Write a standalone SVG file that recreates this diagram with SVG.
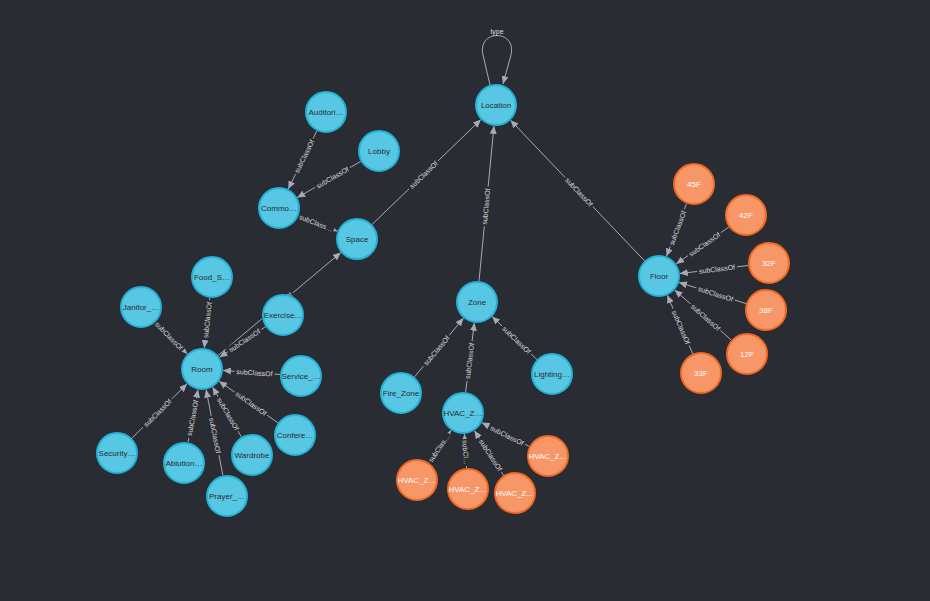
<svg xmlns="http://www.w3.org/2000/svg" width="930" height="601" viewBox="0 0 930 601">
<style>
.bg{fill:#292c33}
.b{fill:#57c7e3;stroke:#23b3d7;stroke-width:2}
.o{fill:#f79767;stroke:#f36924;stroke-width:2}
.t{font-family:"Liberation Sans",Arial,Helvetica,sans-serif;font-size:8px;text-anchor:middle}
.tb{fill:#2a2c34}
.to{fill:#ffffff}
.e{stroke:#a5abb6;stroke-width:1;fill:none;marker-end:url(#arr)}
.l{font-family:"Liberation Sans",Arial,Helvetica,sans-serif;font-size:7px;fill:#dcdcdc;text-anchor:middle}
.lr{fill:#292c33}
</style>
<defs>
<marker id="arr" viewBox="0 0 8 7" refX="8" refY="3.5" markerWidth="8" markerHeight="7" markerUnits="userSpaceOnUse" orient="auto"><path d="M0,0 L8,3.5 L0,7 z" fill="#a5abb6"/></marker>
</defs>
<rect class="bg" x="0" y="0" width="930" height="601"/>
<g id="connectors">
<g id="e-location-type"><path class="e" d="M490,85 L483,55 C477,29 517,29 511,55 L503,84"/><rect class="lr" x="490" y="27" width="14" height="8"/><text class="l" x="497" y="33.5">type</text></g>
<g id="e-space-location"><line class="e" x1="372.1" y1="224.4" x2="480.9" y2="119.6"/><g transform="translate(423.6,174.8) rotate(-43.95)"><rect class="lr" x="-20" y="-4" width="40" height="8"/><text class="l" y="2.5">subClassOf</text></g></g>
<g id="e-zone-location"><line class="e" x1="479" y1="281.1" x2="494" y2="125.9"/><g transform="translate(486.1,206.5) rotate(-84.49)"><rect class="lr" x="-20" y="-4" width="40" height="8"/><text class="l" y="2.5">subClassOf</text></g></g>
<g id="e-floor-location"><line class="e" x1="644.5" y1="260.8" x2="510.5" y2="120.2"/><g transform="translate(579,192) rotate(46.4)"><rect class="lr" x="-20" y="-4" width="40" height="8"/><text class="l" y="2.5">subClassOf</text></g></g>
<g id="e-auditorium-common"><line class="e" x1="316.8" y1="130.9" x2="288.2" y2="189.1"/><g transform="translate(304.3,156.4) rotate(-63.9)"><rect class="lr" x="-20" y="-4" width="40" height="8"/><text class="l" y="2.5">subClassOf</text></g></g>
<g id="e-lobby-common"><line class="e" x1="360.8" y1="161.4" x2="297.2" y2="197.6"/><g transform="translate(332.5,177.5) rotate(-29.7)"><rect class="lr" x="-20" y="-4" width="40" height="8"/><text class="l" y="2.5">subClassOf</text></g></g>
<g id="e-common-space"><line class="e" x1="298.5" y1="215.8" x2="337.5" y2="231.2"/><g transform="translate(316,223) rotate(21.7)"><rect class="lr" x="-19" y="-4" width="38" height="8"/><text class="l" y="2.5">subClass…</text></g></g>
<g id="e-room-space"><line class="e" x1="218.1" y1="355.5" x2="340.9" y2="252.5"/><g transform="translate(277.5,305.5) rotate(-40)"><rect class="lr" x="-20" y="-4" width="40" height="8"/><text class="l" y="2.5">subClassOf</text></g></g>
<g id="e-exercise-room"><line class="e" x1="265.5" y1="326.7" x2="219.5" y2="357.3"/><g transform="translate(244.5,340.5) rotate(-33.7)"><rect class="lr" x="-20" y="-4" width="40" height="8"/><text class="l" y="2.5">subClassOf</text></g></g>
<g id="e-food-room"><line class="e" x1="209.7" y1="297.9" x2="204.3" y2="348.1"/><g transform="translate(207.4,320) rotate(-83.8)"><rect class="lr" x="-20" y="-4" width="40" height="8"/><text class="l" y="2.5">subClassOf</text></g></g>
<g id="e-janitor-room"><line class="e" x1="155.7" y1="322" x2="187.3" y2="354"/><g transform="translate(169,336) rotate(45.5)"><rect class="lr" x="-20" y="-4" width="40" height="8"/><text class="l" y="2.5">subClassOf</text></g></g>
<g id="e-service-room"><line class="e" x1="280.1" y1="374.5" x2="222.9" y2="370.5"/><g transform="translate(254.5,372.7) rotate(4.04)"><rect class="lr" x="-20" y="-4" width="40" height="8"/><text class="l" y="2.5">subClassOf</text></g></g>
<g id="e-security-room"><line class="e" x1="131.9" y1="438.2" x2="187.1" y2="383.8"/><g transform="translate(157.5,413) rotate(-44.7)"><rect class="lr" x="-20" y="-4" width="40" height="8"/><text class="l" y="2.5">subClassOf</text></g></g>
<g id="e-ablution-room"><line class="e" x1="188" y1="442.4" x2="198" y2="389.6"/><g transform="translate(192.5,418) rotate(-79.2)"><rect class="lr" x="-20" y="-4" width="40" height="8"/><text class="l" y="2.5">subClassOf</text></g></g>
<g id="e-prayer-room"><line class="e" x1="222.9" y1="475.4" x2="206.1" y2="389.6"/><g transform="translate(215,435.5) rotate(78.9)"><rect class="lr" x="-20" y="-4" width="40" height="8"/><text class="l" y="2.5">subClassOf</text></g></g>
<g id="e-wardrobe-room"><line class="e" x1="241.4" y1="436.9" x2="212.6" y2="387.1"/><g transform="translate(228,414) rotate(59.8)"><rect class="lr" x="-20" y="-4" width="40" height="8"/><text class="l" y="2.5">subClassOf</text></g></g>
<g id="e-conference-room"><line class="e" x1="277.9" y1="422.8" x2="219.1" y2="381.2"/><g transform="translate(251,403.5) rotate(35.4)"><rect class="lr" x="-20" y="-4" width="40" height="8"/><text class="l" y="2.5">subClassOf</text></g></g>
<g id="e-fire-zone"><line class="e" x1="414.5" y1="376.9" x2="463.5" y2="318.1"/><g transform="translate(436.4,350.6) rotate(-50.1)"><rect class="lr" x="-20" y="-4" width="40" height="8"/><text class="l" y="2.5">subClassOf</text></g></g>
<g id="e-hvac-zone"><line class="e" x1="465.6" y1="392.2" x2="474.4" y2="322.8"/><g transform="translate(469.5,361) rotate(-82.8)"><rect class="lr" x="-20" y="-4" width="40" height="8"/><text class="l" y="2.5">subClassOf</text></g></g>
<g id="e-lighting-zone"><line class="e" x1="536.9" y1="359.5" x2="492.1" y2="316.5"/><g transform="translate(516.5,340) rotate(43.8)"><rect class="lr" x="-20" y="-4" width="40" height="8"/><text class="l" y="2.5">subClassOf</text></g></g>
<g id="e-hvac1-hvac"><line class="e" x1="428.9" y1="462.7" x2="451.1" y2="430.3"/><g transform="translate(439,448) rotate(-55.5)"><rect class="lr" x="-17.5" y="-4" width="35" height="8"/><text class="l" y="2.5">subClas…</text></g></g>
<g id="e-hvac2-hvac"><line class="e" x1="466.6" y1="468" x2="464.4" y2="434"/><g transform="translate(465.7,452.5) rotate(86.2)"><rect class="lr" x="-13.5" y="-4" width="27" height="8"/><text class="l" y="2.5">subCl…</text></g></g>
<g id="e-hvac3-hvac"><line class="e" x1="503.6" y1="475.4" x2="474.4" y2="430.6"/><g transform="translate(490.5,455) rotate(57)"><rect class="lr" x="-20" y="-4" width="40" height="8"/><text class="l" y="2.5">subClassOf</text></g></g>
<g id="e-hvac4-hvac"><line class="e" x1="529.3" y1="446.5" x2="481.7" y2="422.5"/><g transform="translate(507,435.5) rotate(26.8)"><rect class="lr" x="-20" y="-4" width="40" height="8"/><text class="l" y="2.5">subClassOf</text></g></g>
<g id="e-45f-floor"><line class="e" x1="686.5" y1="203.6" x2="666.5" y2="256.4"/><g transform="translate(677.5,228) rotate(-69.2)"><rect class="lr" x="-20" y="-4" width="40" height="8"/><text class="l" y="2.5">subClassOf</text></g></g>
<g id="e-42f-floor"><line class="e" x1="728.8" y1="227.1" x2="676.2" y2="263.9"/><g transform="translate(704.5,244.3) rotate(-35)"><rect class="lr" x="-20" y="-4" width="40" height="8"/><text class="l" y="2.5">subClassOf</text></g></g>
<g id="e-32f-floor"><line class="e" x1="748.2" y1="265.5" x2="679.8" y2="273.5"/><g transform="translate(717,269.1) rotate(-6.7)"><rect class="lr" x="-20" y="-4" width="40" height="8"/><text class="l" y="2.5">subClassOf</text></g></g>
<g id="e-38f-floor"><line class="e" x1="746" y1="303.6" x2="679" y2="282.4"/><g transform="translate(715.5,293.9) rotate(17.6)"><rect class="lr" x="-20" y="-4" width="40" height="8"/><text class="l" y="2.5">subClassOf</text></g></g>
<g id="e-12f-floor"><line class="e" x1="731.3" y1="340.1" x2="674.7" y2="289.9"/><g transform="translate(705.5,317.3) rotate(41.6)"><rect class="lr" x="-20" y="-4" width="40" height="8"/><text class="l" y="2.5">subClassOf</text></g></g>
<g id="e-33f-floor"><line class="e" x1="692.7" y1="353.7" x2="667.3" y2="295.3"/><g transform="translate(681,327.3) rotate(66.6)"><rect class="lr" x="-20" y="-4" width="40" height="8"/><text class="l" y="2.5">subClassOf</text></g></g>
</g>
<g id="n-location"><circle class="b" cx="496" cy="105" r="20"/><text class="t tb" x="496" y="107.8">Location</text></g>
<g id="n-space"><circle class="b" cx="357" cy="239" r="20"/><text class="t tb" x="357" y="241.8">Space</text></g>
<g id="n-zone"><circle class="b" cx="477" cy="302" r="20"/><text class="t tb" x="477" y="304.8">Zone</text></g>
<g id="n-floor"><circle class="b" cx="659" cy="276" r="20"/><text class="t tb" x="659" y="278.8">Floor</text></g>
<g id="n-auditorium"><circle class="b" cx="326" cy="112" r="20"/><text class="t tb" x="326" y="114.8">Auditori…</text></g>
<g id="n-lobby"><circle class="b" cx="379" cy="151" r="20"/><text class="t tb" x="379" y="153.8">Lobby</text></g>
<g id="n-common"><circle class="b" cx="279" cy="208" r="20"/><text class="t tb" x="279" y="210.8">Commo…</text></g>
<g id="n-food"><circle class="b" cx="212" cy="277" r="20"/><text class="t tb" x="212" y="279.8">Food_S…</text></g>
<g id="n-janitor"><circle class="b" cx="141" cy="307" r="20"/><text class="t tb" x="141" y="309.8">Janitor_…</text></g>
<g id="n-exercise"><circle class="b" cx="283" cy="315" r="20"/><text class="t tb" x="283" y="317.8">Exercise…</text></g>
<g id="n-room"><circle class="b" cx="202" cy="369" r="20"/><text class="t tb" x="202" y="371.8">Room</text></g>
<g id="n-service"><circle class="b" cx="301" cy="376" r="20"/><text class="t tb" x="301" y="378.8">Service_…</text></g>
<g id="n-security"><circle class="b" cx="117" cy="453" r="20"/><text class="t tb" x="117" y="455.8">Security…</text></g>
<g id="n-ablution"><circle class="b" cx="184" cy="463" r="20"/><text class="t tb" x="184" y="465.8">Ablution…</text></g>
<g id="n-prayer"><circle class="b" cx="227" cy="496" r="20"/><text class="t tb" x="227" y="498.8">Prayer_…</text></g>
<g id="n-wardrobe"><circle class="b" cx="252" cy="455" r="20"/><text class="t tb" x="252" y="457.8">Wardrobe</text></g>
<g id="n-conference"><circle class="b" cx="295" cy="435" r="20"/><text class="t tb" x="295" y="437.8">Confere…</text></g>
<g id="n-fire-zone"><circle class="b" cx="401" cy="393" r="20"/><text class="t tb" x="401" y="395.8">Fire_Zone</text></g>
<g id="n-lighting"><circle class="b" cx="552" cy="374" r="20"/><text class="t tb" x="552" y="376.8">Lighting…</text></g>
<g id="n-hvac"><circle class="b" cx="463" cy="413" r="20"/><text class="t tb" x="463" y="415.8">HVAC_Z…</text></g>
<g id="n-hvac-1"><circle class="o" cx="417" cy="480" r="20"/><text class="t to" x="417" y="482.8">HVAC_Z…</text></g>
<g id="n-hvac-2"><circle class="o" cx="468" cy="489" r="20"/><text class="t to" x="468" y="491.8">HVAC_Z…</text></g>
<g id="n-hvac-3"><circle class="o" cx="515" cy="493" r="20"/><text class="t to" x="515" y="495.8">HVAC_Z…</text></g>
<g id="n-hvac-4"><circle class="o" cx="548" cy="456" r="20"/><text class="t to" x="548" y="458.8">HVAC_Z…</text></g>
<g id="n-45f"><circle class="o" cx="694" cy="184" r="20"/><text class="t to" x="694" y="186.8">45F</text></g>
<g id="n-42f"><circle class="o" cx="746" cy="215" r="20"/><text class="t to" x="746" y="217.8">42F</text></g>
<g id="n-32f"><circle class="o" cx="769" cy="263" r="20"/><text class="t to" x="769" y="265.8">32F</text></g>
<g id="n-38f"><circle class="o" cx="766" cy="310" r="20"/><text class="t to" x="766" y="312.8">38F</text></g>
<g id="n-12f"><circle class="o" cx="747" cy="354" r="20"/><text class="t to" x="747" y="356.8">12F</text></g>
<g id="n-33f"><circle class="o" cx="701" cy="373" r="20"/><text class="t to" x="701" y="375.8">33F</text></g>
</svg>
